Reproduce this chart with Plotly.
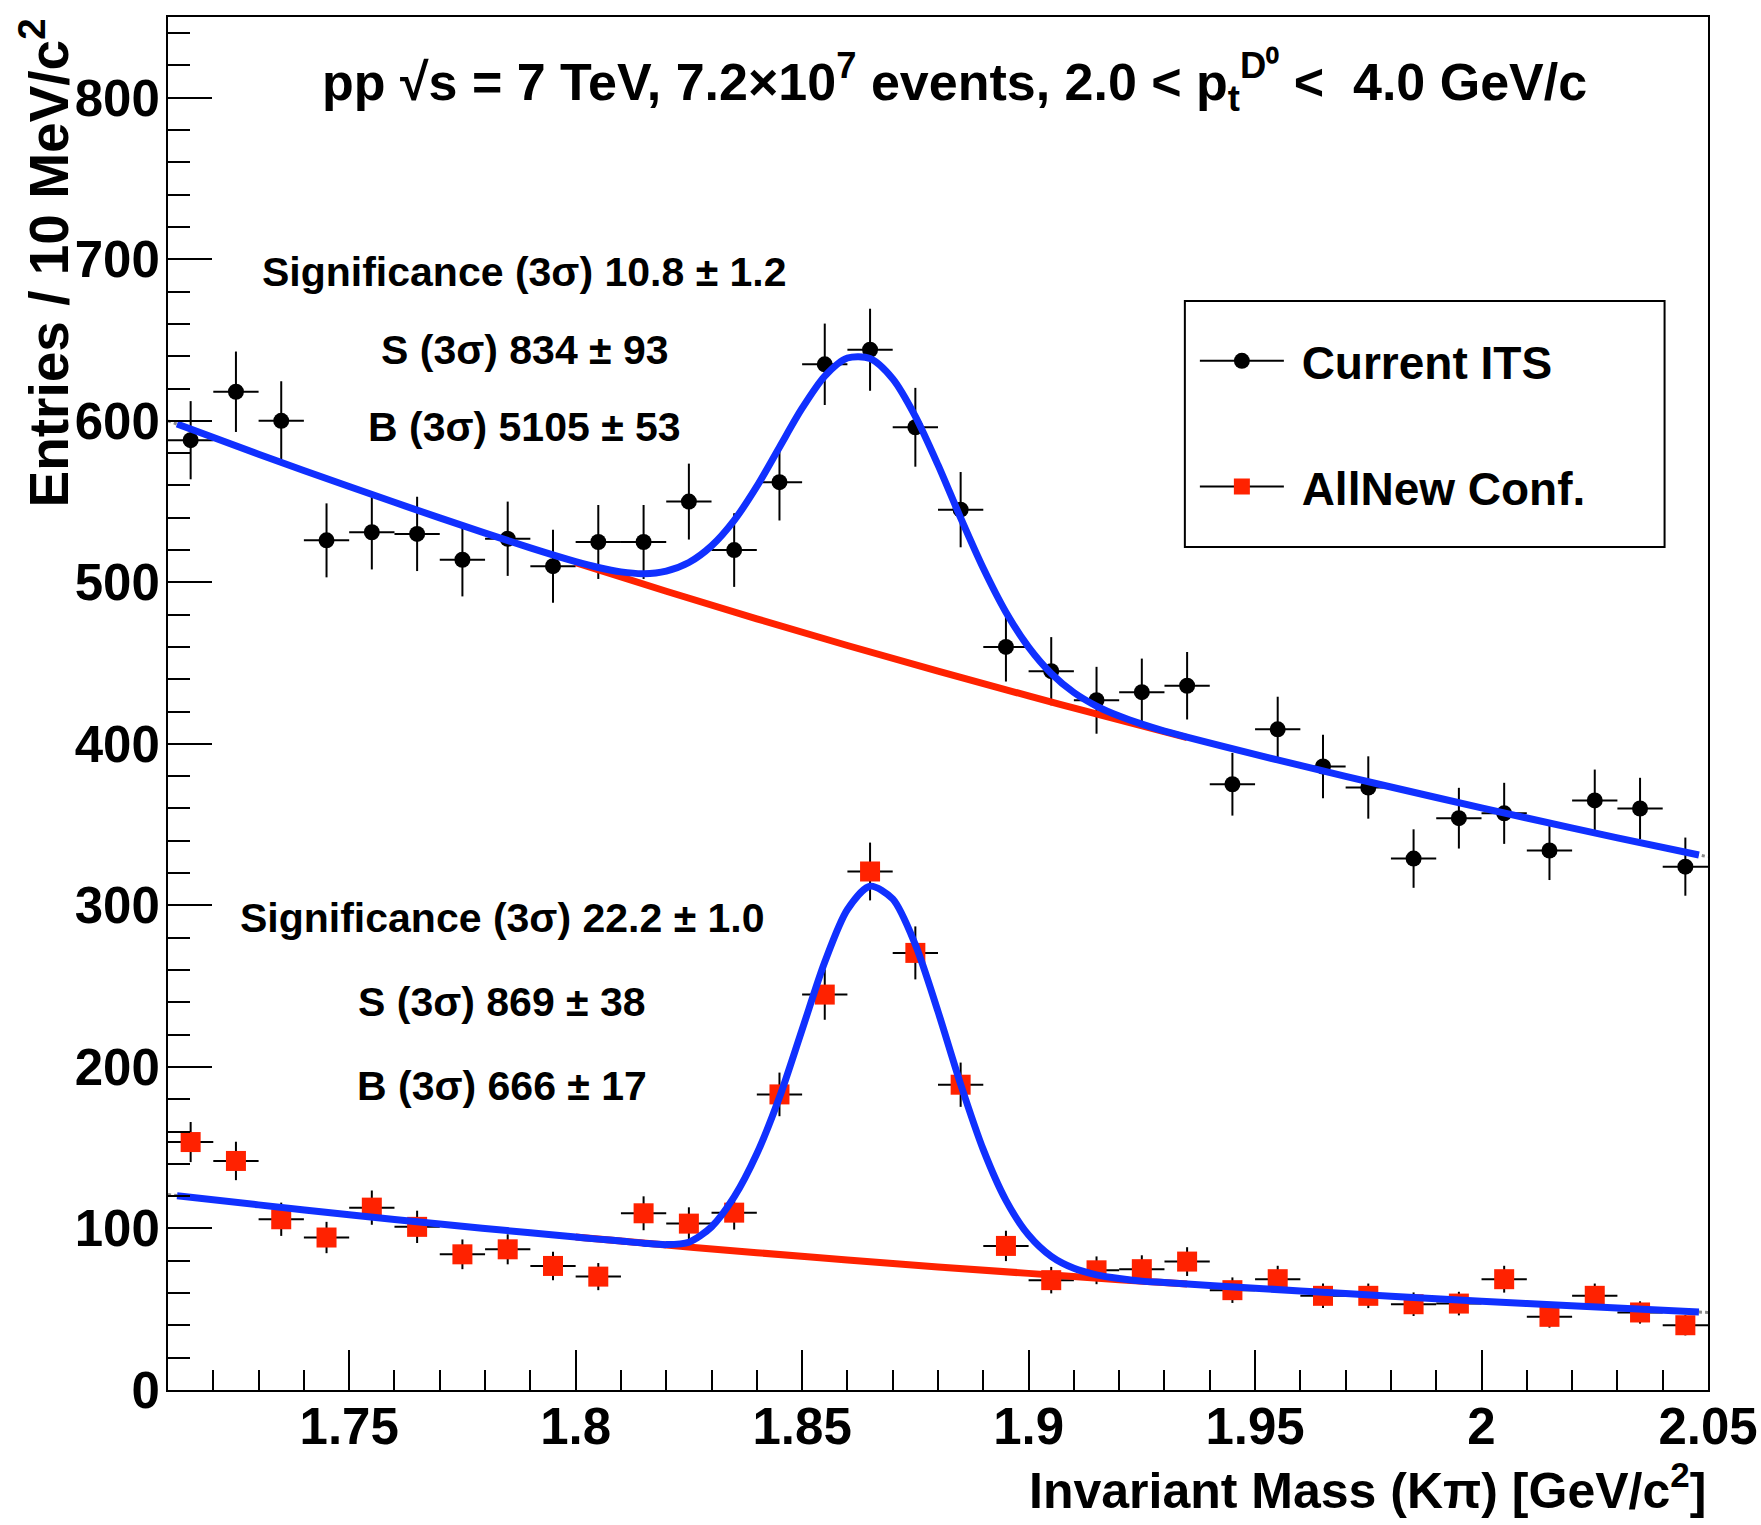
import plotly.graph_objects as go

# ---------------- data ----------------
mass_bins = [1.715, 1.725, 1.735, 1.745, 1.755, 1.765, 1.775, 1.785, 1.795, 1.805,
             1.815, 1.825, 1.835, 1.845, 1.855, 1.865, 1.875, 1.885, 1.895, 1.905,
             1.915, 1.925, 1.935, 1.945, 1.955, 1.965, 1.975, 1.985, 1.995, 2.005,
             2.015, 2.025, 2.035, 2.045]

current_its = [588, 618, 600, 526, 531, 530, 514, 527, 510, 525,
               525, 550, 520, 562, 635, 644, 596, 545, 460, 445,
               427, 432, 436, 375, 409, 386, 373, 329, 354, 357,
               334, 365, 360, 324]
current_its_err = [24.2, 24.9, 24.5, 22.9, 23.0, 23.0, 22.7, 23.0, 22.6, 22.9,
                   22.9, 23.5, 22.8, 23.7, 25.2, 25.4, 24.4, 23.3, 21.4, 21.1,
                   20.7, 20.8, 20.9, 19.4, 20.2, 19.6, 19.3, 18.1, 18.8, 18.9,
                   18.3, 19.1, 19.0, 18.0]

allnew_conf = [153.5, 141.8, 105.7, 94.4, 112.9, 101.0, 84.0, 87.1, 76.8, 70.2,
               109.4, 103.0, 109.8, 183.0, 244.8, 321.0, 270.6, 189.0, 89.2, 68.0,
               74.1, 74.8, 79.5, 61.8, 68.6, 58.3, 58.3, 53.1, 53.5, 68.6,
               45.3, 58.3, 48.0, 40.1]
allnew_conf_err = [12.4, 11.9, 10.3, 9.7, 10.6, 10.0, 9.2, 9.3, 8.8, 8.4,
                   10.5, 10.1, 10.5, 13.5, 15.6, 17.9, 16.4, 13.7, 9.4, 8.2,
                   8.6, 8.6, 8.9, 7.9, 8.3, 7.6, 7.6, 7.3, 7.3, 8.3,
                   6.7, 7.6, 6.9, 6.3]
bin_half_width = 0.005

# total fit curves (signal + background)
fit_x = [1.712, 1.73, 1.75, 1.77, 1.79, 1.80, 1.805, 1.81, 1.815, 1.82,
         1.825, 1.83, 1.835, 1.84, 1.845, 1.85, 1.855, 1.86, 1.865, 1.87,
         1.875, 1.88, 1.885, 1.89, 1.895, 1.90, 1.905, 1.91, 1.915, 1.92,
         1.925, 1.93, 1.95, 1.97, 1.99, 2.01, 2.03, 2.048]
fit_current = [598, 579.3, 559.3, 539.9, 521.3, 512.8, 509.2, 506.5, 505.4, 507.0,
               512.3, 522.6, 538.4, 559.4, 583.7, 607.8, 627.7, 638.9, 638.6, 626.1,
               602.8, 572.7, 539.9, 508.7, 481.5, 459.9, 443.6, 431.8, 423.4, 417.2,
               412.2, 407.9, 393.5, 379.9, 366.8, 354.1, 341.8, 331.2]
fit_allnew = [120.3, 114.6, 108.5, 102.8, 97.3, 94.7, 93.4, 92.2, 90.9, 90.0,
              91.5, 101.0, 119.5, 146.2, 181.2, 223.1, 265.0, 297.5, 311.9, 304.0,
              275.7, 234.3, 189.3, 148.8, 117.4, 95.9, 82.7, 75.3, 71.3, 69.0,
              67.4, 66.5, 63.0, 59.7, 56.5, 53.5, 50.7, 48.3]

# background under the peak (red)
bkg_x = [1.80, 1.82, 1.84, 1.86, 1.88, 1.90, 1.92, 1.935]
bkg_current = [512.2, 494.5, 477.4, 460.9, 445.0, 429.7, 414.8, 403.9]
bkg_allnew = [94.7, 89.7, 85.0, 80.5, 76.2, 72.2, 68.3, 65.6]

# full-range background (grey dotted)
bkgfull_x = [1.71, 1.75, 1.79, 1.83, 1.87, 1.91, 1.95, 1.99, 2.03, 2.05]
bkgfull_current = [600, 559.3, 521.3, 485.9, 452.9, 422.1, 393.5, 366.8, 341.8, 330.1]
bkgfull_allnew = [121, 108.5, 97.3, 87.3, 78.3, 70.2, 63.0, 56.5, 50.7, 48.0]

legend_names = ["\u00a0Current ITS", "\u00a0AllNew Conf."]
title_text = ("pp √s = 7 TeV, 7.2×10<sup>7</sup> events, 2.0 &lt; p<sub>t</sub><sup>D⁰</sup> &lt;  4.0 GeV/c")
upper_labels = ["Significance (3σ) 10.8 ± 1.2", "S (3σ) 834 ± 93", "B (3σ) 5105 ± 53"]
lower_labels = ["Significance (3σ) 22.2 ± 1.0", "S (3σ) 869 ± 38", "B (3σ) 666 ± 17"]
x_title = "Invariant Mass (Kπ) [GeV/c<sup>2</sup>]"
y_title = "Entries / 10 MeV/c<sup>2</sup>"

# ---------------- styling ----------------
FONT = "Liberation Sans, Arial, Helvetica, sans-serif"
BLUE = "#1030ff"
RED = "#ff2200"

fig = go.Figure()

# data points
fig.add_trace(go.Scatter(
    x=mass_bins, y=current_its, mode="markers", showlegend=False,
    marker=dict(symbol="circle", size=16, color="black"),
    error_y=dict(type="data", array=current_its_err, width=0, thickness=2, color="black"),
    error_x=dict(type="constant", value=bin_half_width, width=0, thickness=2, color="black"),
))
fig.add_trace(go.Scatter(
    x=mass_bins, y=allnew_conf, mode="markers", showlegend=False,
    marker=dict(symbol="square", size=20, color=RED),
    error_y=dict(type="data", array=allnew_conf_err, width=0, thickness=2, color="black"),
    error_x=dict(type="constant", value=bin_half_width, width=0, thickness=2, color="black"),
))

# background and fits
for by in [bkgfull_current, bkgfull_allnew]:
    fig.add_trace(go.Scatter(x=bkgfull_x, y=by, mode="lines", showlegend=False, hoverinfo="skip",
                             line=dict(color="#8a8a8a", width=3, dash="dot", shape="spline")))
for by in [bkg_current, bkg_allnew]:
    fig.add_trace(go.Scatter(x=bkg_x, y=by, mode="lines", showlegend=False,
                             line=dict(color=RED, width=7, shape="spline")))
for fy in [fit_current, fit_allnew]:
    fig.add_trace(go.Scatter(x=fit_x, y=fy, mode="lines", showlegend=False,
                             line=dict(color=BLUE, width=7, shape="spline", smoothing=0.8)))

# legend entries
fig.add_trace(go.Scatter(x=[None], y=[None], mode="lines+markers", name=legend_names[0],
                         legendgroup="a", line=dict(color="black", width=2),
                         marker=dict(symbol="circle", size=16, color="black")))
fig.add_trace(go.Scatter(x=[None], y=[None], mode="lines+markers", name=legend_names[1],
                         legendgroup="b", line=dict(color="black", width=2),
                         marker=dict(symbol="square", size=16, color=RED)))

# texts
ann = []
ann.append(dict(x=1.8837, y=810, xref="x", yref="y", text=title_text, showarrow=False,
                font=dict(family=FONT, size=52, color="black", weight="bold")))
for txt, yy in zip(upper_labels, [692, 644, 596]):
    ann.append(dict(x=1.7888, y=yy, xref="x", yref="y", text=txt, showarrow=False,
                    font=dict(family=FONT, size=41, color="black", weight="bold")))
for txt, yy in zip(lower_labels, [292, 240, 188]):
    ann.append(dict(x=1.7838, y=yy, xref="x", yref="y", text=txt, showarrow=False,
                    font=dict(family=FONT, size=41, color="black", weight="bold")))
ann.append(dict(x=1.0, y=-0.071, xref="paper", yref="paper", xanchor="right", yanchor="middle",
                text=x_title, showarrow=False,
                font=dict(family=FONT, size=50, color="black", weight="bold")))
ann.append(dict(x=-0.0805, y=1.0, xref="paper", yref="paper", xanchor="center", yanchor="top",
                text=y_title, showarrow=False, textangle=-90,
                font=dict(family=FONT, size=55, color="black", weight="bold")))

axis_common = dict(showline=True, linecolor="black", linewidth=2, mirror=True,
                   ticks="inside", tickcolor="black", tickwidth=2,
                   showgrid=False, zeroline=False, automargin=False,
                   tickfont=dict(family=FONT, size=51, color="black", weight="bold"))

fig.update_layout(
    width=1761, height=1525,
    margin=dict(l=168, r=53, t=17, b=135),
    paper_bgcolor="white", plot_bgcolor="white",
    annotations=ann,
    shapes=[dict(type="rect", xref="paper", yref="paper",
                 x0=0.6603, x1=0.9718, y0=0.6140, y1=0.7932,
                 line=dict(color="black", width=2), fillcolor="white", layer="above")],
    xaxis=dict(range=[1.71, 2.050001], tick0=1.75, dtick=0.05, ticklen=40,
               minor=dict(dtick=0.01, tick0=1.75, ticklen=20, tickwidth=2, tickcolor="black", ticks="inside"),
               ticklabelstandoff=-9, **axis_common),
    yaxis=dict(range=[0, 850], tick0=0, dtick=100, ticklen=44,
               minor=dict(dtick=20, tick0=0, ticklen=22, tickwidth=2, tickcolor="black", ticks="inside"),
               ticklabelstandoff=-4, **axis_common),
    legend=dict(x=0.6668, y=0.7761, xanchor="left", yanchor="top",
                bgcolor="rgba(0,0,0,0)", borderwidth=0,
                font=dict(family=FONT, size=46, color="black", weight="bold"),
                itemwidth=84, tracegroupgap=63, traceorder="grouped", itemsizing="trace"),
    showlegend=True,
)

fig.write_html("out.html")
